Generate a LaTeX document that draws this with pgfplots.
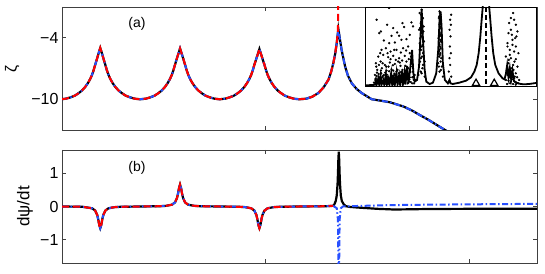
\documentclass[border=0pt]{standalone}
\usepackage{fontspec}
\setmainfont{Liberation Sans}
\usepackage{pgfplots}
\pgfplotsset{compat=1.18}
\usepackage{pgfplotstable}
\definecolor{mblue}{RGB}{40,80,255}
\definecolor{mred}{RGB}{255,0,0}

\pgfplotstableread{
t z
0 -9.99
0.18 -9.95
0.41 -9.82
0.63 -9.65
0.82 -9.4
0.98 -9.15
1.14 -8.8
1.28 -8.4
1.39 -8.0
1.47 -7.65
1.55 -7.2
1.63 -6.65
1.72 -6.05
1.80 -5.5
1.88 -5.0
1.96 -5.5
2.04 -6.05
2.13 -6.65
2.21 -7.2
2.29 -7.65
2.37 -8.0
2.48 -8.4
2.62 -8.8
2.78 -9.15
2.94 -9.4
3.13 -9.65
3.35 -9.82
3.58 -9.95
3.84 -10.0
4.10 -9.95
4.33 -9.82
4.55 -9.65
4.74 -9.4
4.90 -9.15
5.06 -8.8
5.20 -8.4
5.31 -8.0
5.39 -7.65
5.47 -7.2
5.55 -6.65
5.64 -6.05
5.72 -5.55
5.80 -5.05
5.88 -5.55
5.96 -6.05
6.05 -6.65
6.13 -7.2
6.21 -7.65
6.29 -8.0
6.40 -8.4
6.54 -8.8
6.70 -9.15
6.86 -9.4
7.05 -9.65
7.27 -9.82
7.50 -9.95
7.75 -10.0
8.00 -9.95
8.23 -9.82
8.45 -9.65
8.64 -9.4
8.80 -9.15
8.96 -8.8
9.10 -8.4
9.21 -8.0
9.29 -7.65
9.37 -7.2
9.45 -6.65
9.54 -6.1
9.62 -5.6
9.70 -5.1
9.78 -5.6
9.86 -6.1
9.95 -6.65
10.03 -7.2
10.11 -7.65
10.19 -8.0
10.30 -8.4
10.44 -8.8
10.60 -9.15
10.76 -9.4
10.95 -9.65
11.17 -9.82
11.40 -9.95
11.65 -10.0
12.00 -9.95
12.30 -9.75
12.59 -9.4
12.85 -8.85
13.09 -8.1
13.22 -7.35
13.33 -6.5
13.42 -5.6
13.50 -4.5
13.58 -3.15
13.66 -4.2
13.74 -5.2
13.91 -6.8
14.05 -7.7
14.24 -8.45
14.48 -9.0
14.73 -9.4
15.22 -10.0
15.70 -10.15
16.12 -10.3
16.77 -10.7
17.20 -11.1
17.59 -11.55
18.00 -12.0
18.41 -12.5
18.82 -13.0
19.50 -13.8
}\Azeta

\pgfplotstableread{
t v
0 0
1.0 -0.008
1.48 -0.054
1.63 -0.122
1.73 -0.254
1.78 -0.384
1.83 -0.554
1.88 -0.65
1.93 -0.554
1.98 -0.384
2.03 -0.254
2.13 -0.122
2.28 -0.054
2.58 -0.019
2.88 -0.009
3.84 0
4.80 0.009
5.10 0.019
5.40 0.054
5.55 0.122
5.65 0.254
5.70 0.384
5.75 0.554
5.80 0.66
5.85 0.554
5.90 0.384
5.95 0.254
6.05 0.122
6.20 0.054
6.50 0.019
6.80 0.009
7.75 0
8.70 -0.009
9.00 -0.019
9.30 -0.054
9.45 -0.122
9.55 -0.254
9.60 -0.384
9.65 -0.554
9.70 -0.65
9.75 -0.554
9.80 -0.384
9.85 -0.254
9.95 -0.122
10.10 -0.054
10.40 -0.019
10.70 -0.009
11.65 0
12.50 0.005
13.00 0.01
13.32 0.02
}\Bcommon

\pgfplotstableread{
t v
13.32 0.02
13.38 0.06
13.45 0.165
13.50 0.33
13.54 0.68
13.56 1.0
13.58 1.42
13.60 1.65
13.62 1.42
13.64 1.0
13.66 0.68
13.70 0.33
13.75 0.165
13.85 0.06
13.95 0.01
14.10 -0.01
14.50 -0.03
15.00 -0.05
15.50 -0.07
16.30 -0.09
17.00 -0.085
18.00 -0.075
20.00 -0.07
23.34 -0.07
}\Bblack

\pgfplotstableread{
t v
13.32 0.02
13.50 -0.05
13.56 -0.4
13.60 -3.0
13.64 -0.4
13.70 -0.05
13.80 0.0
14.50 0.015
16.00 0.04
18.00 0.055
20.00 0.065
23.34 0.08
}\Bblue

\pgfplotsset{
  mainax/.style={scale only axis, width=475pt, xmin=0, xmax=23.34,
    xtick={0,10,20}, xticklabels={}, tick align=inside,
    xtick pos=both, ytick pos=both, major tick length=4pt,
    axis line style={line width=0.7pt, black!75},
    every tick/.style={line width=0.7pt, black!75},
    yticklabel style={font=\fontsize{16}{16}\selectfont},
    clip=true},
  blk/.style={black, line width=2.2pt, no markers},
  blu/.style={mblue, line width=2pt, dash pattern=on 6pt off 2.5pt on 1.5pt off 2.5pt, no markers},
  rd/.style={mred, line width=2pt, dash pattern=on 7pt off 4pt, no markers},
}

\begin{document}
\begin{tikzpicture}
\path[use as bounding box] (0,0) rectangle (545pt,273pt);

% (a)
\begin{axis}[mainax, at={(62pt,143pt)}, anchor=south west, height=123pt,
  ymin=-13, ymax=-1, ytick={-10,-4}, yticklabels={−10,−4},
  ylabel={ζ}, ylabel style={at={(axis description cs:-0.105,0.5)}, anchor=center, font=\fontsize{16}{16}\selectfont}]
\addplot[blk] table[x=t,y=z] {\Azeta};
\addplot[blu] table[x=t,y=z] {\Azeta};
\addplot[rd, restrict x to domain=0:13.51] table[x=t,y=z] {\Azeta};
\addplot[rd] coordinates {(13.50,-4.5) (13.56,-3.3) (13.57,0)};
\node[font=\fontsize{14}{14}\selectfont] at (axis description cs:0.158,0.862) {(a)};
\end{axis}

% inset
\begin{axis}[at={(365pt,187pt)}, anchor=south west, scale only axis,
  width=171pt, height=79pt, xmin=15, xmax=531, ymin=22, ymax=258, y dir=reverse,
  xtick=\empty, ytick=\empty, axis line style={line width=0.6pt},
  axis background/.style={fill=white}, clip marker paths=false]
\addplot[only marks, mark=*, mark size=0.95pt, black] coordinates {
(88,25)(50,60)(82,75)(63,95)(100,85)(128,70)(133,82)(155,68)(160,80)(112,98)
(118,108)(95,108)(58,100)(72,122)(88,130)(105,128)(125,120)(140,118)(150,105)
(65,150)(78,145)(92,155)(110,150)(130,145)(145,140)(55,170)(70,165)(85,172)
(100,168)(118,175)(135,168)(150,160)(48,190)(62,185)(75,195)(90,188)(105,192)
(122,198)(140,185)(155,190)(52,210)(66,205)(80,212)(95,208)(110,215)(128,210)
(145,205)(160,215)(50,228)(60,232)(72,225)(85,235)(98,228)(112,236)(125,230)
(138,240)(150,232)(165,225)(55,245)(68,248)(82,244)(96,250)(108,246)(120,250)
(135,248)(148,245)(162,240)(46,240)(58,252)(75,252)(90,248)(102,253)(118,244)
(130,252)(142,238)(157,250)(64,220)(77,238)(104,222)(133,226)(86,200)(115,185)
(42,248)(47,236)(53,250)(57,238)(61,246)(67,232)(71,250)(74,240)(79,247)(83,230)
(87,252)(91,238)(95,244)(99,234)(103,249)(107,238)(111,246)(115,230)(119,252)(123,240)
(127,247)(131,236)(136,244)(140,228)(144,250)(149,238)(153,246)(158,232)(163,250)(168,240)
(45,225)(51,218)(56,222)(63,212)(69,228)(76,218)(81,224)(88,214)(93,222)(100,212)
(106,226)(113,210)(117,220)(124,216)(131,222)(138,212)(143,224)(152,216)(158,200)
(49,200)(57,195)(68,190)(79,200)(92,178)(99,196)(108,180)(120,188)(127,182)(137,198)
(147,178)(154,170)(61,160)(83,160)(103,150)(123,158)(139,152)
(180,40)(186,30)(190,55)(183,70)(192,80)(178,90)(188,100)(182,115)(193,125)
(186,140)(180,150)(190,160)(184,175)(195,185)(178,195)(188,205)(183,215)(176,225)(195,230)
(184,45)(187,60)(181,85)(191,95)(185,110)(180,130)(189,135)(184,150)(187,170)(181,185)(190,195)(186,220)
(240,35)(243,45)(238,55)(242,65)(240,75)(244,85)(239,95)(242,105)(237,115)(244,125)
(240,135)(243,145)(238,155)(241,165)(245,175)(236,190)(247,200)(240,215)(250,230)
(241,40)(239,50)(242,60)(240,70)(241,80)(239,90)(241,100)(240,110)(242,120)(239,130)
(241,140)(240,150)(242,160)(239,170)(243,185)(238,200)(244,210)
(275,45)(272,60)(274,75)(270,90)(273,110)(271,140)(274,160)(270,175)(272,195)(268,215)(275,230)
(462,40)(455,55)(465,60)(450,70)(470,75)(448,100)(458,105)(475,95)(445,130)(460,135)
(470,140)(452,150)(465,155)(478,160)(440,170)(455,175)(470,178)(448,190)(462,195)(475,200)
(443,210)(458,215)(470,220)(450,232)(465,235)(440,240)(480,240)(455,245)(472,248)
(445,225)(452,222)(460,228)(467,230)(474,232)(448,242)(458,238)(466,244)(477,250)(444,252)
(453,250)(462,252)(470,254)(456,205)(463,210)(449,180)(466,185)(452,165)(460,120)(468,115)
(455,90)(472,110)(445,140)
};
\addplot[black, line width=1.8pt, no markers] coordinates {
(15,256)(40,255)(45,254)(48,240)(50,254)(55,235)(58,254)(62,228)(65,254)(70,240)
(73,254)(78,222)(81,254)(86,236)(89,254)(94,220)(97,254)(102,230)(105,254)(110,218)
(113,254)(118,226)(121,254)(126,212)(129,254)(134,218)(137,254)(142,198)(146,250)
(152,200)(157,150)(161,220)(165,245)(172,240)(178,200)(182,120)(186,28)(190,120)
(195,210)(200,245)(210,252)(220,248)(230,220)(236,150)(240,60)(243,35)(246,80)
(250,190)(256,240)(265,250)(270,240)(273,250)(280,252)(300,248)(320,242)(335,232)
(345,215)(352,195)(358,160)(363,110)(367,60)(370,25)(373,-100)(380,-400)(387,-100)
(390,25)(393,60)(397,110)(402,160)(408,195)(418,220)(430,235)(436,238)(440,222)
(444,195)(448,232)(452,205)(456,238)(460,212)(464,242)(470,248)(485,252)(495,253)
(510,252)(531,249)};
\addplot[black, line width=1.8pt, dash pattern=on 5pt off 3pt, no markers] coordinates {(380,22) (380,258)};
\addplot[only marks, mark=triangle, mark size=4.2pt, black, line width=1.2pt] coordinates {(350,250) (405,250)};
\end{axis}

% (b)
\begin{axis}[mainax, at={(62pt,10pt)}, anchor=south west, height=113pt,
  ymin=-1.7, ymax=1.7, ytick={-1,0,1}, yticklabels={−1,0,1},
  ylabel={dψ/dt}, ylabel style={at={(axis description cs:-0.078,0.5)}, anchor=center, font=\fontsize{17}{17}\selectfont}]
\addplot[blk] table[x=t,y=v] {\Bcommon};
\addplot[blk] table[x=t,y=v] {\Bblack};
\addplot[blu] table[x=t,y=v] {\Bcommon};
\addplot[blu] table[x=t,y=v] {\Bblue};
\addplot[rd] table[x=t,y=v] {\Bcommon};
\node[font=\fontsize{14}{14}\selectfont] at (axis description cs:0.158,0.84) {(b)};
\end{axis}
\end{tikzpicture}
\end{document}
